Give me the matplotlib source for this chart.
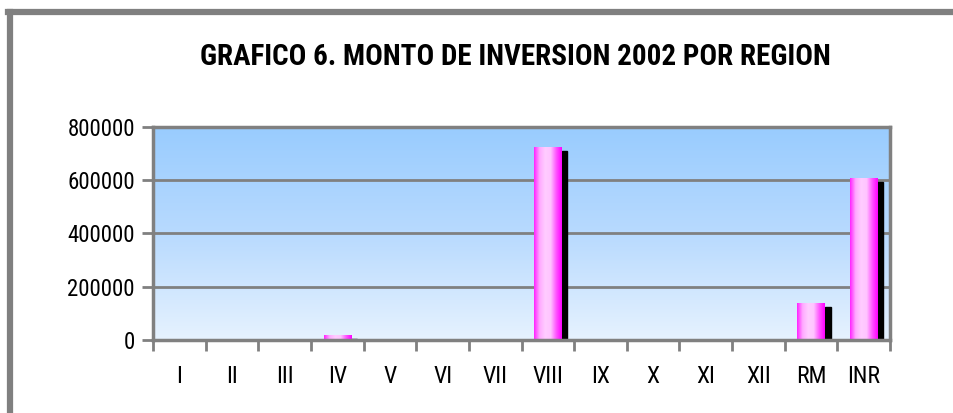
import numpy as np
import matplotlib.pyplot as plt
from matplotlib.colors import LinearSegmentedColormap
from matplotlib.patches import Rectangle
from matplotlib.lines import Line2D

# Datos
regiones = ['I', 'II', 'III', 'IV', 'V', 'VI', 'VII', 'VIII', 'IX', 'X', 'XI', 'XII', 'RM', 'INR']
monto = [0, 0, 0, 19000, 0, 0, 0, 725000, 0, 0, 0, 0, 140000, 608000]
yticks = [0, 200000, 400000, 600000, 800000]

plt.rcParams['font.family'] = ['Roboto Condensed', 'PT Sans Narrow', 'DejaVu Sans']

fig = plt.figure(figsize=(9.54, 4.13), dpi=100)
ax = fig.add_axes([0.1604, 0.1768, 0.7726, 0.5157])

x = np.arange(len(regiones)) + 0.5
ancho = 0.52
sombra = 0.11

ax.set_xlim(0, len(regiones))
ax.set_ylim(0, 800000)

# Fondo degradado
fondo = LinearSegmentedColormap.from_list('fondo', ['#e6f2ff', '#b8dafe', '#99ccff'])
ax.imshow(np.linspace(0, 1, 256).reshape(-1, 1), cmap=fondo, aspect='auto',
          extent=[0, len(regiones), 0, 800000], origin='lower', zorder=0)

# Lineas de cuadricula
for yt in yticks[1:-1]:
    ax.axhline(yt, color='#808080', lw=2, zorder=1)

# Barras con degradado horizontal
rosa = LinearSegmentedColormap.from_list('rosa', ['#ff22ff', '#ffaaff', '#ffccff', '#ffc4ff', '#ff55ff', '#ff00ff'])
grad = np.linspace(0, 1, 128).reshape(1, -1)
for xi, v in zip(x, monto):
    if v <= 0:
        continue
    x0 = xi - ancho / 2
    # sombra
    ax.add_patch(Rectangle((x0 + ancho, 0), sombra, max(v - 16000, 0), color='black', zorder=2))
    im = ax.imshow(grad, cmap=rosa, aspect='auto', extent=[x0, x0 + ancho, 0, v], zorder=3)
    r = Rectangle((x0, 0), ancho, v, transform=ax.transData, facecolor='none', edgecolor='none')
    ax.add_patch(r)
    im.set_clip_path(r)

ax.set_xlim(0, len(regiones))
ax.set_ylim(0, 800000)

for s in ax.spines.values():
    s.set_color('#808080')
    s.set_linewidth(2.5)
    s.set_zorder(5)

ax.set_yticks(yticks)
ax.set_yticklabels([str(t) for t in yticks], fontsize=16.5)
ax.set_xticks(np.arange(len(regiones) + 1))
ax.set_xticklabels([])
ax.set_xticks(x, minor=True)
ax.set_xticklabels(regiones, minor=True, fontsize=17)
ax.tick_params(axis='x', which='minor', length=0, pad=18)
ax.tick_params(axis='x', which='major', length=8, width=2, color='#808080', direction='out')
ax.tick_params(axis='y', length=8, width=2, color='#808080', pad=5)

fig.text(0.54, 0.862, 'GRAFICO 6. MONTO DE INVERSION 2002 POR REGION',
         ha='center', va='center', fontsize=21, fontweight='bold')

# Marco exterior
fig.add_artist(Line2D([0.0105, 0.0105], [0, 0.972], color='#808080', lw=4.5))
fig.add_artist(Line2D([0.0083, 1.0], [0.972, 0.972], color='#808080', lw=4.5))

fig.savefig('out.png', dpi=100)
